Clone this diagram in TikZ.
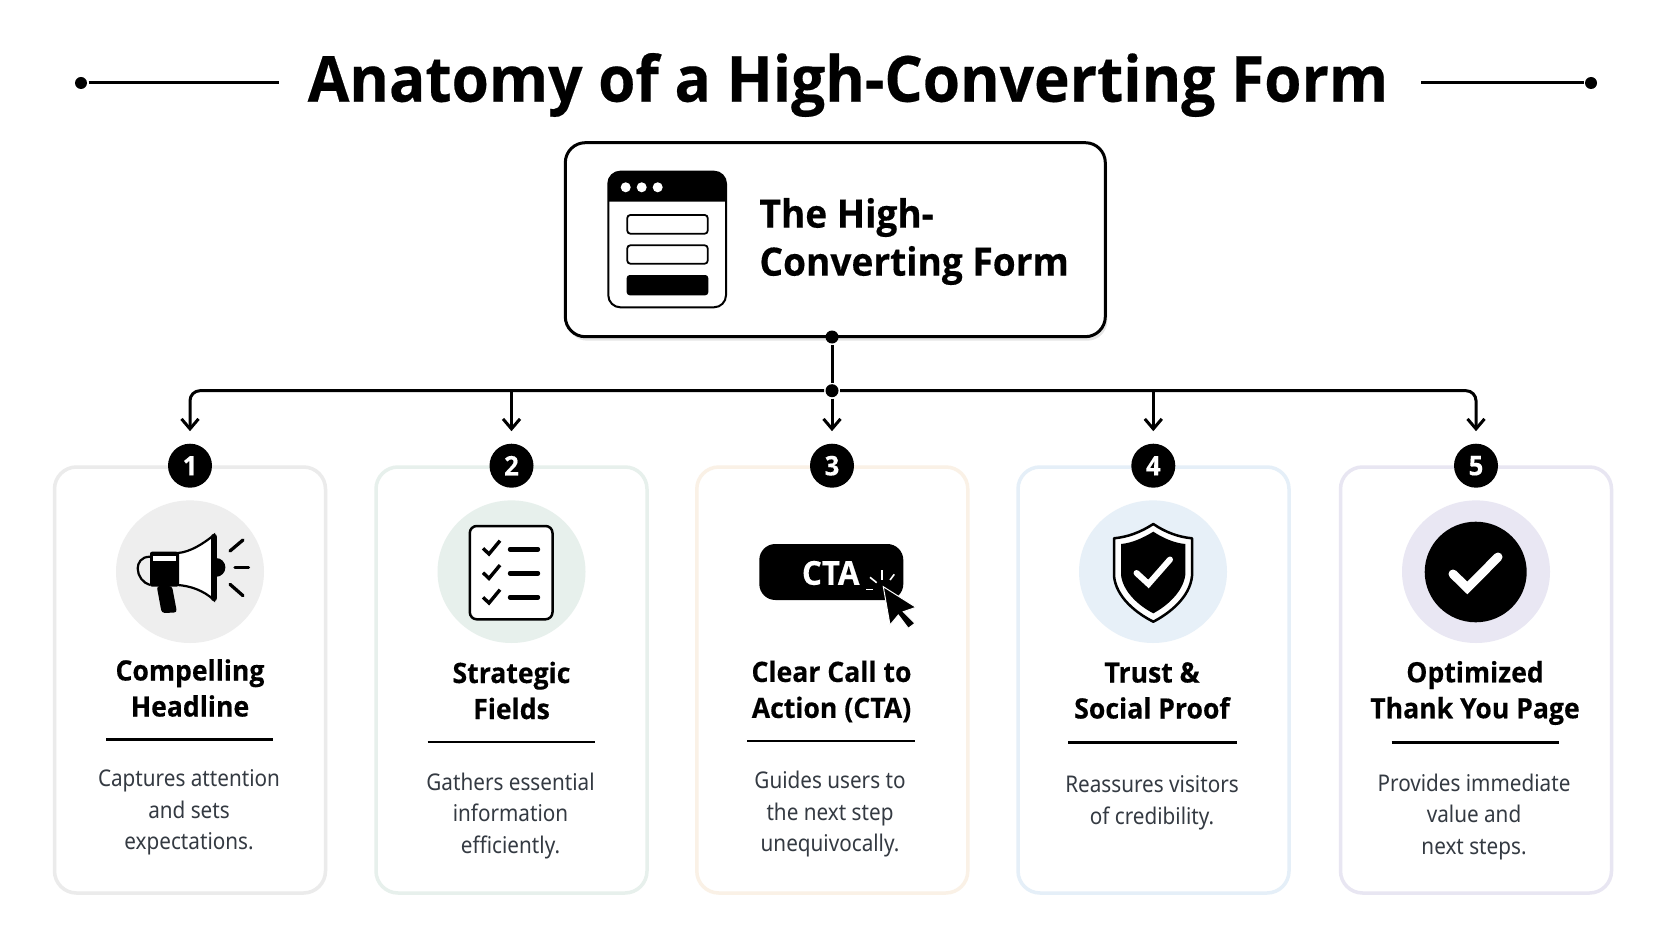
\documentclass[tikz,border=0pt]{standalone}
\usepackage{fontspec}
\setmainfont{Noto Sans}[FakeStretch=0.9]
\newfontfamily\heavy{Open Sans}[FakeStretch=0.95,UprightFont=* Bold,FakeBold=0.35]
\usetikzlibrary{arrows.meta,shadows}
\definecolor{inkgray}{HTML}{343A42}
\definecolor{edgeA}{HTML}{EBEBEB}
\definecolor{edgeB}{HTML}{E7F0EC}
\definecolor{edgeC}{HTML}{FAF1E6}
\definecolor{edgeD}{HTML}{E5EFF8}
\definecolor{edgeE}{HTML}{E8E6F2}
\definecolor{discA}{HTML}{EEEEEE}
\definecolor{discB}{HTML}{E7F0EC}
\definecolor{discD}{HTML}{E7F0F8}
\definecolor{discE}{HTML}{E9E7F3}
\tikzset{
  card/.style={draw,line width=3.5pt,rounded corners=22pt,minimum width=271pt,minimum height=426pt,fill=white},
  badge/.style={circle,fill=black,text=white,minimum size=44pt,inner sep=0pt,font=\fontsize{27}{27}\heavy},
  dot/.style={circle,fill=black,minimum size=13pt,inner sep=0pt},
  head/.style={align=center,inner sep=0pt,font=\fontsize{28}{36}\heavy},
  blurb/.style={align=center,inner sep=0pt,text=inkgray,font=\fontsize{23}{31.5}\selectfont},
  rulerline/.style={line width=2.4pt},
}
\begin{document}
\begin{tikzpicture}[x=1pt,y=-1pt,>={Straight Barb[length=10pt,width=17pt]},line width=3pt]
\useasboundingbox (0,0) rectangle (1672,941);
\fill[white] (0,0) rectangle (1672,941);

% title
\node (title) at (848,85) [font=\fontsize{63.5}{64}\heavy,inner sep=0pt] {Anatomy of a High-Converting Form};
\node (tipA) at (81,83) [dot,minimum size=12pt] {};
\coordinate (endA) at (279,83);
\node (tipB) at (1591,83) [dot,minimum size=12pt] {};
\coordinate (endB) at (1421,83);
\draw (tipA)--(endA);
\draw (tipB)--(endB);

% top box
\node (root) at (835.3,239.7) [draw,line width=3pt,rounded corners=20pt,minimum width=540pt,minimum height=194pt,fill=white,drop shadow={shadow xshift=2pt,shadow yshift=-4pt,opacity=.1,fill=black}] {};
\draw[line width=2pt,rounded corners=12pt,fill=white] (608.3,171.7) rectangle (726,307.3);
\fill (608.3,201.7) [rounded corners=12pt] -- (608.3,171.7) -- (726,171.7) [sharp corners] -- (726,201.7) -- cycle;
\fill[white] (625.7,187.3) circle (5pt);
\fill[white] (641.7,187.3) circle (5pt);
\fill[white] (657.7,187.3) circle (5pt);
\draw[line width=1.8pt,rounded corners=3pt] (627.3,215) rectangle (707.7,233.7);
\draw[line width=1.8pt,rounded corners=3pt] (627.3,245.3) rectangle (707.7,263.7);
\fill[rounded corners=3pt] (626.7,275) rectangle (708.3,295.3);
\node (rootname) at (758,241.5) [anchor=west,align=left,inner sep=0pt,font=\fontsize{39}{48}\heavy] {The High-\\Converting Form};

% cards
\node (cardA) at (190,680) [card,draw=edgeA] {};
\node (cardB) at (511.5,680) [card,draw=edgeB] {};
\node (cardC) at (832.3,680) [card,draw=edgeC] {};
\node (cardD) at (1153.5,680) [card,draw=edgeD] {};
\node (cardE) at (1476,680) [card,draw=edgeE] {};

% connectors
\node (hub) at (832,337) [dot] {};
\node (bus) at (832,390.7) [dot] {};
\node (numA) at (190,465.7) [badge] {1};
\node (numB) at (511.5,465.7) [badge] {2};
\node (numC) at (832,465.7) [badge] {3};
\node (numD) at (1153.3,465.7) [badge] {4};
\node (numE) at (1476,465.7) [badge] {5};
\draw (hub)--(bus);
\draw[->,rounded corners=10pt,shorten >=11pt] (bus) -| (numA);
\draw[->,rounded corners=10pt,shorten >=11pt] (bus) -| (numE);
\draw[->,shorten >=11pt] (bus)--(numC);
\draw[->,shorten >=11pt] (bus -| numB)--(numB);
\draw[->,shorten >=11pt] (bus -| numD)--(numD);

% discs
\fill[discA] (190,571.7) circle [x radius=74pt,y radius=71.3pt];
\fill[discB] (511.5,571.7) circle [x radius=74pt,y radius=71.3pt];
\fill[discD] (1153,571.7) circle [x radius=74pt,y radius=71.3pt];
\fill[discE] (1476,571.7) circle [x radius=74pt,y radius=71.3pt];

% megaphone
\draw[line width=2.2pt] (150,556.7) .. controls (141,556.7) and (137.7,563) .. (137.7,568.5) .. controls (137.7,576) and (143,583) .. (150,585);
\draw[line width=2.2pt,fill=white] (178,553) .. controls (190,552) and (203,544) .. (214,535) -- (214,600) .. controls (203,590) and (190,586) .. (178,585) -- cycle;
\fill[rounded corners=2pt] (150,551.7) rectangle (178.3,586.7);
\fill[white] (153.3,555.7) rectangle (176,560.7);
\fill[rounded corners=3pt] (156.7,586) -- (172,586) -- (177,612.5) -- (161.7,613) -- cycle;
\draw[line width=6.5pt,line cap=round] (214,537) -- (214,598);
\fill (216,558) arc (90:-90:9.4pt) -- cycle;
\draw[line width=3.3pt,line cap=round] (230,551) -- (243,540);
\draw[line width=3.3pt,line cap=round] (235,567.7) -- (248.5,567.7);
\draw[line width=3.3pt,line cap=round] (230,584.3) -- (243,595.7);

% checklist
\draw[line width=2.5pt,rounded corners=7pt,fill=white] (469.8,526) rectangle (552.5,619.3);
\draw[line width=3.4pt] (483,548.3) -- (489,554) -- (500,540.7);
\draw[line width=3.4pt] (483,572.7) -- (489,578.4) -- (500,565.1);
\draw[line width=3.4pt] (483,597.3) -- (489,603) -- (500,589.7);
\draw[line width=4.4pt,line cap=round] (510,549.3) -- (538,549.3);
\draw[line width=4.4pt,line cap=round] (510,573.3) -- (538,573.3);
\draw[line width=4.4pt,line cap=round] (510,597.3) -- (538,597.3);

% cta button
\fill[rounded corners=16pt] (759.3,544) rectangle (903.3,600);
\node (ctatext) at (830.7,573) [text=white,inner sep=0pt,font=\fontsize{33}{33}\heavy] {CTA};
\draw[white,line width=1.6pt] (881.7,570) -- (881.7,580);
\draw[white,line width=1.6pt] (870,577.3) -- (876.7,582.7);
\draw[white,line width=1.6pt] (866,589.3) -- (873.3,589.3);
\draw[white,line width=1.6pt] (894.3,574.3) -- (890,580);
\draw[white,line width=1pt,fill=black] (883.3,586.7) -- (916,607.3) -- (903.3,611.7) -- (915,623.3) -- (908.3,628.3) -- (898.3,615) -- (890,625) -- cycle;

% shield
\draw[line width=2.5pt,fill=white,line join=round] (1153.3,524) .. controls (1165,532) and (1178,537) .. (1192,538.3) -- (1192,576) .. controls (1190,597) and (1170,613) .. (1153.3,621.7) .. controls (1136,613) and (1116,597) .. (1114,576) -- (1114,538.3) .. controls (1128,537) and (1141,532) .. (1153.3,524) -- cycle;
\fill (1153.3,531.7) .. controls (1163,538) and (1174,543) .. (1185.3,544) -- (1185.3,575) .. controls (1183,592) and (1167,606) .. (1153.3,613.3) .. controls (1139,606) and (1123,592) .. (1121,575) -- (1121,544) .. controls (1132,543) and (1143,538) .. (1153.3,531.7) -- cycle;
\draw[white,line width=6pt,line cap=round] (1136.5,573) -- (1148.5,584) -- (1170,559.5);

% thank you check
\fill (1475.7,572) circle [x radius=51pt,y radius=50.3pt];
\draw[white,line width=9pt,line cap=round] (1453,574) -- (1467.3,588) -- (1498,557);

% card texts
\node (headA) at (190,688) [head] {Compelling\\Headline};
\node (headB) at (511.5,690.5) [head] {Strategic\\Fields};
\node (headC) at (831.5,691.5) [head] {Clear Call to\\Action (CTA)};
\node (headD) at (1152,690.5) [head] {Trust \&\\Social Proof};
\node (headE) at (1475,693) [head] {Optimized\\Thank You Page};
\draw[rulerline] (106,739.3)--(273,739.3);
\draw[rulerline] (427.5,741.7)--(595,741.7);
\draw[rulerline] (747,741)--(915,741);
\draw[rulerline] (1068,742.3)--(1237,742.3);
\draw[rulerline] (1391.7,742.3)--(1559,742.3);
\node (blurbA) at (189,812.5) [blurb] {Captures attention\\and sets\\expectations.};
\node (blurbB) at (510.5,816) [blurb] {Gathers essential\\information\\efficiently.};
\node (blurbC) at (830,814.5) [blurb] {Guides users to\\the next step\\unequivocally.};
\node (blurbD) at (1152,803) [blurb] {Reassures visitors\\of credibility.};
\node (blurbE) at (1474,817) [blurb] {Provides immediate\\value and\\next steps.};
\end{tikzpicture}
\end{document}
